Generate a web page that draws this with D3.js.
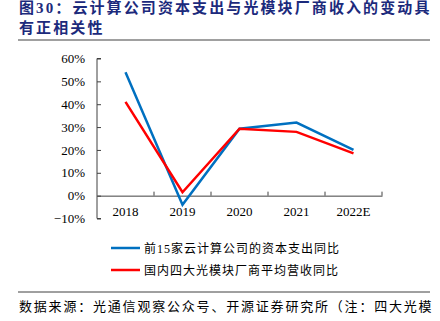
<!DOCTYPE html>
<html><head><meta charset="utf-8">
<script src="https://cdn.jsdelivr.net/npm/d3@7"></script>
<style>body{margin:0;background:#fff;}svg{display:block;}</style>
</head><body>
<script>
const categories = ["2018","2019","2020","2021","2022E"];
const cloudCapex = [0.54, -0.04, 0.293, 0.32, 0.20];
const moduleRevenue = [0.41, 0.015, 0.293, 0.279, 0.185];
const yTicks = [-0.1, 0, 0.1, 0.2, 0.3, 0.4, 0.5, 0.6];
const seriesNames = ["前15家云计算公司的资本支出同比", "国内四大光模块厂商平均营收同比"];
const titleLines = ["图30：云计算公司资本支出与光模块厂商收入的变动具", "有正相关性"];
const sourceText = "数据来源：光通信观察公众号、开源证券研究所（注：四大光模";

const W = 440, H = 321;
const svg = d3.select("body").append("svg").attr("width", W).attr("height", H);
const cjk = "'Liberation Serif','Noto Sans CJK SC',serif";

// title
svg.selectAll("text.title").data(titleLines).join("text")
  .attr("x", 19).attr("y", (d,i) => 13 + i*20)
  .attr("font-family", cjk).attr("font-weight", "bold").attr("font-size", 15)
  .attr("letter-spacing", 2.1).attr("fill", "#1c2a7c").text(d => d);
svg.append("line").attr("x1", 18).attr("x2", 430).attr("y1", 40).attr("y2", 40)
  .attr("stroke", "#808080").attr("stroke-width", 1.5);

const x = d3.scaleBand().domain(categories).range([97, 382]);
const y = d3.scaleLinear().domain([-0.1, 0.6]).range([218.5, 58.5]);

// y axis
const ya = svg.append("g").attr("transform", "translate(97,0)")
  .call(d3.axisRight(y).tickValues(yTicks).tickSize(4).tickFormat(d3.format(".0%")));
ya.select(".domain").attr("stroke", "#404040").attr("d", `M4,${y(-0.1)}H0V${y(0.6)}H4`);
ya.selectAll(".tick line").attr("stroke", "#404040");
ya.selectAll(".tick text").attr("x", -12).attr("text-anchor", "end")
  .attr("font-family", "'Liberation Serif',serif").attr("font-size", 13).attr("fill", "#000");

// x axis at 0
const xa = svg.append("g").attr("transform", `translate(0,${y(0)})`)
  .call(d3.axisTop(x).tickSize(0).tickFormat(""));
xa.select(".domain").attr("stroke", "#404040");
xa.selectAll(".tick").remove();
const bounds = categories.map(c => x(c)).concat([x.range()[1]]);
xa.selectAll("line.t").data(bounds.slice(1)).join("line")
  .attr("x1", d => d).attr("x2", d => d).attr("y1", 0).attr("y2", -4).attr("stroke", "#404040");
svg.selectAll("text.xl").data(categories).join("text")
  .attr("x", d => x(d) + x.bandwidth()/2).attr("y", 216)
  .attr("text-anchor", "middle").attr("font-family", "'Liberation Serif',serif")
  .attr("font-size", 13).text(d => d);

const line = d3.line().x((d,i) => x(categories[i]) + x.bandwidth()/2).y(d => y(d));
const colors = ["#0070c0", "#ff0000"];
[cloudCapex, moduleRevenue].forEach((s, k) => {
  svg.append("path").datum(s).attr("d", line).attr("fill", "none")
    .attr("stroke", colors[k]).attr("stroke-width", 2.5).attr("stroke-linejoin", "miter");
});

// legend
seriesNames.forEach((n, k) => {
  const ly = 248 + k*22;
  svg.append("line").attr("x1", 111).attr("x2", 140).attr("y1", ly).attr("y2", ly)
    .attr("stroke", colors[k]).attr("stroke-width", 2.5);
  svg.append("text").attr("x", 144).attr("y", ly + 4.5).attr("font-family", cjk)
    .attr("font-size", 12).attr("letter-spacing", 1).text(n);
});

svg.append("line").attr("x1", 18).attr("x2", 430).attr("y1", 292).attr("y2", 292)
  .attr("stroke", "#404040").attr("stroke-width", 1);
svg.append("text").attr("x", 19).attr("y", 311).attr("font-family", cjk)
  .attr("font-size", 13).attr("letter-spacing", 1.8).text(sourceText);
</script>
</body></html>
